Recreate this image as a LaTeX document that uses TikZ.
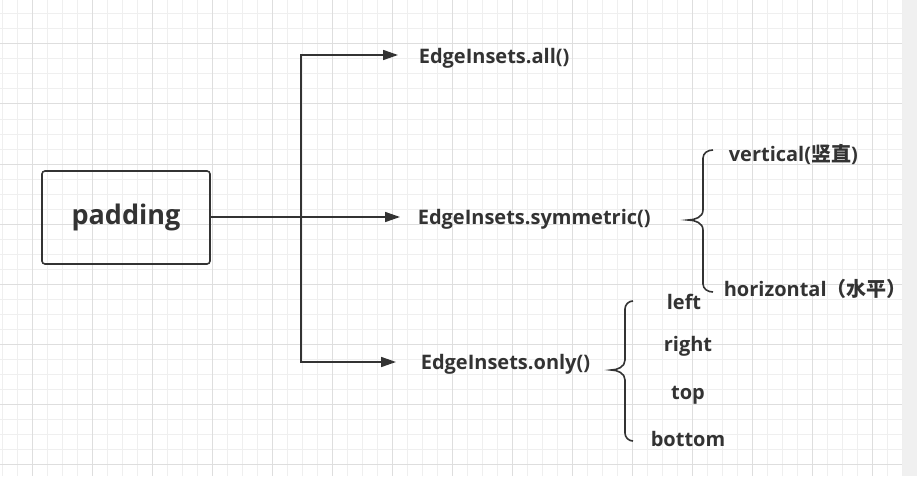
\documentclass[tikz,border=0pt]{standalone}
\usepackage{fontspec}
\setmainfont{Open Sans}
\newfontfamily\cjk{Noto Sans CJK SC}
\usepackage{tikz}
\usetikzlibrary{positioning,arrows.meta,calc}
\definecolor{ink}{HTML}{333333}
\definecolor{minorgrid}{HTML}{EFEFEF}
\definecolor{majorgrid}{HTML}{DEDEDE}
\definecolor{strip}{HTML}{F0F0F0}

\begin{document}
\begin{tikzpicture}[x=1pt,y=-1pt,
  line width=1.6pt,
  lbl/.style={anchor=west,inner sep=0pt,text=ink,font=\fontsize{20}{24}\selectfont\bfseries},
  sub/.style={inner sep=0pt,text=ink,font=\fontsize{20}{24}\selectfont\bfseries},
  conn/.style={draw=ink,-{Triangle[length=15pt,width=10pt]}}]
\useasboundingbox (0,0) rectangle (917,476);
% grid
\fill[strip] (902,0) rectangle (917,476);
\foreach \x in {2,17,...,902}
  \draw[minorgrid,line width=1pt] (\x,0) -- (\x,476);
\foreach \y in {14,29,...,476}
  \draw[minorgrid,line width=1pt] (0,\y) -- (902,\y);
\foreach \x in {32,92,...,872}
  \draw[majorgrid,line width=1pt] (\x,0) -- (\x,476);
\foreach \y in {44,104,...,464}
  \draw[majorgrid,line width=1pt] (0,\y) -- (902,\y);

\node[draw=ink,rounded corners=3pt,minimum width=168pt,minimum height=93pt,
  inner sep=0pt,text=ink,font=\fontsize{27}{32}\selectfont\bfseries] (pad) at (126,217.5) {padding};

\node[lbl] (all)  at (418,58)  {EdgeInsets.all()};
\node[lbl] (sym)  at (417,219) {EdgeInsets.symmetric()};
\node[lbl] (only) at (420,364) {EdgeInsets.only()};

\coordinate (split) at (301,217);
\coordinate (alltip)  at (398,55);
\coordinate (symtip)  at (400,217);
\coordinate (onlytip) at (396,362);

\draw[ink] (pad.east |- split) -- (split);
\draw[conn] (split) |- (alltip);
\draw[conn] (split) -- (symtip);
\draw[conn] (split) |- (onlytip);

% braces
\draw[ink] (713,150) to[out=180,in=90] (703,158) -- (703,210)
  to[out=-90,in=0] (688,220) to[out=0,in=90] (703,230) -- (703,284)
  to[out=-90,in=180] (713,292);
\draw[ink] (633,301) to[out=180,in=90] (625,309) -- (625,360)
  to[out=-90,in=0] (611,370) to[out=0,in=90] (625,380) -- (625,433)
  to[out=-90,in=180] (633,441);

\node[lbl] (vert)  at (728,154) {vertical({\cjk 竖直})};
\node[lbl] (horiz) at (723,289) {horizontal{\cjk （水平）}};

\node[sub] (left)   at (684,302) {left};
\node[sub] (right)  at (688,346) {right};
\node[sub] (top)    at (688,395) {top};
\node[sub] (bottom) at (688,439) {bottom};
\end{tikzpicture}
\end{document}
